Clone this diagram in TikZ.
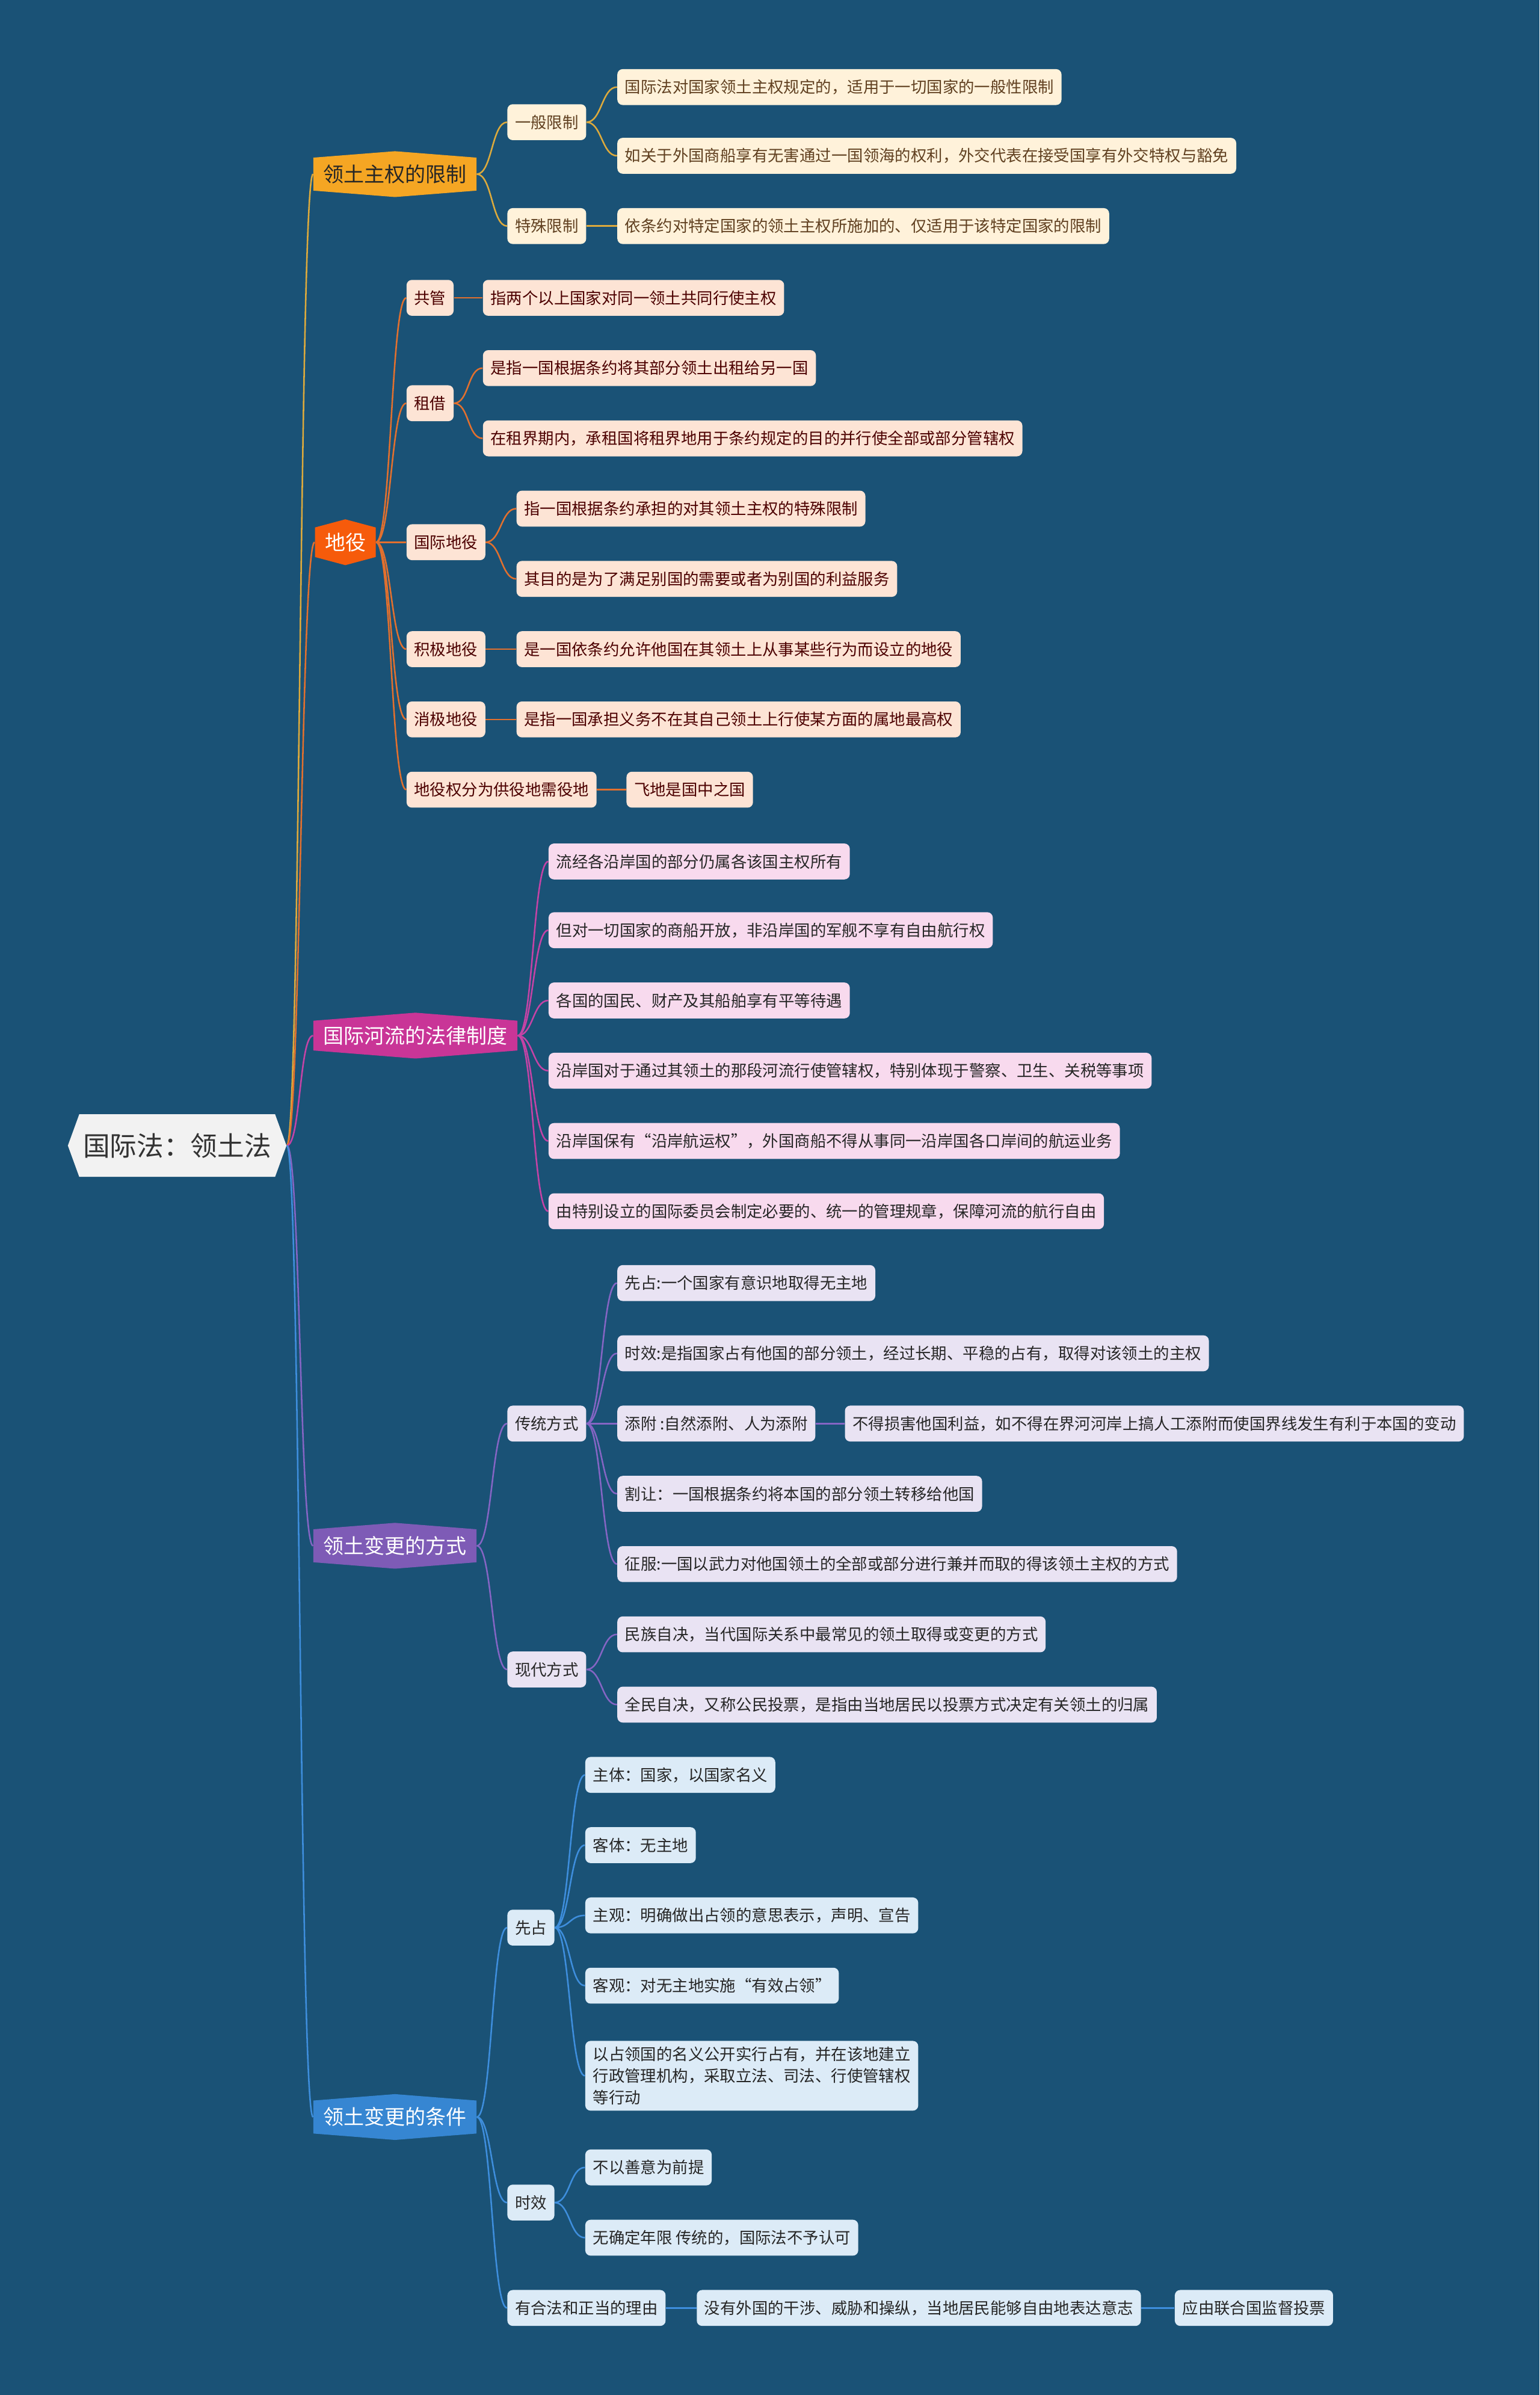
\documentclass[tikz,border=0pt]{standalone}
\usepackage{fontspec}
\setmainfont{Noto Sans CJK SC}
\usetikzlibrary{shapes.symbols, positioning}

\definecolor{bgblue}{HTML}{1A5276}
\definecolor{rootgray}{HTML}{F2F2F2}
\definecolor{orA}{HTML}{F5A623}
\definecolor{orAlite}{HTML}{FFF2DA}
\definecolor{orAline}{HTML}{DDAA3C}
\definecolor{orB}{HTML}{F65B0B}
\definecolor{orBlite}{HTML}{FDE4D5}
\definecolor{orBline}{HTML}{E2702E}
\definecolor{mag}{HTML}{C93597}
\definecolor{maglite}{HTML}{F8DAEE}
\definecolor{magline}{HTML}{C543A6}
\definecolor{pur}{HTML}{7E5BB6}
\definecolor{purlite}{HTML}{E9E3F3}
\definecolor{purline}{HTML}{8565C4}
\definecolor{blu}{HTML}{3686D2}
\definecolor{blulite}{HTML}{DCEBF7}
\definecolor{bluline}{HTML}{3E8EDD}

\tikzset{
  rootnode/.style={signal, signal to=west and east, signal pointer angle=140,
    fill=rootgray, text=black!80, inner xsep=2.5pt, inner ysep=0pt, minimum height=41pt,
    font=\fontsize{17.6}{20}\selectfont},
  topic/.style={signal, signal to=north and south, signal pointer angle=171,
    inner xsep=6.5pt, inner ysep=0pt, minimum height=30pt, anchor=west,
    font=\fontsize{13.4}{16}\selectfont},
  item/.style={rounded corners=3.5pt, minimum height=23.5pt, inner xsep=5pt,
    inner ysep=2pt, anchor=west, align=left, font=\fontsize{10.4}{14}\selectfont},
  itemA/.style={item, fill=orAlite, text=brown!50!black},
  itemB/.style={item, fill=orBlite, text=red!30!black},
  itemC/.style={item, fill=maglite, text=black!85},
  itemD/.style={item, fill=purlite, text=black!85},
  itemE/.style={item, fill=blulite, text=black!85},
  link/.style={line width=1pt},
}

\begin{document}
\begin{tikzpicture}[x=1pt, y=-1pt]
        % Background
        \fill[bgblue] (0,0) rectangle (1008,1568);
        \useasboundingbox (0,0) rectangle (1008,1568);

        % Root
        \node[rootnode] (root) at (116,750) {国际法：领土法};

        % Limits of sovereignty
        \node[topic, fill=orA, text=black!85] (lim) at (205,114) {领土主权的限制};
        \node[itemA] (limgen) at (332,80) {一般限制};
        \node[itemA] (limspec) at (332,148) {特殊限制};
        \node[itemA] (limgen1) at (404,57) {国际法对国家领土主权规定的，适用于一切国家的一般性限制};
        \node[itemA] (limgen2) at (404,102) {如关于外国商船享有无害通过一国领海的权利，外交代表在接受国享有外交特权与豁免};
        \node[itemA] (limspec1) at (404,148) {依条约对特定国家的领土主权所施加的、仅适用于该特定国家的限制};

        % Servitudes
        \node[topic, fill=orB, text=white, signal pointer angle=150] (serv) at (206,355) {地役};
        \node[itemB] (joint) at (266,195) {共管};
        \node[itemB] (joint1) at (316,195) {指两个以上国家对同一领土共同行使主权};
        \node[itemB] (lease) at (266,264) {租借};
        \node[itemB] (lease1) at (316,241) {是指一国根据条约将其部分领土出租给另一国};
        \node[itemB] (lease2) at (316,287) {在租界期内，承租国将租界地用于条约规定的目的并行使全部或部分管辖权};
        \node[itemB] (servint) at (266,355) {国际地役};
        \node[itemB] (servint1) at (338,333) {指一国根据条约承担的对其领土主权的特殊限制};
        \node[itemB] (servint2) at (338,379) {其目的是为了满足别国的需要或者为别国的利益服务};
        \node[itemB] (servpos) at (266,425) {积极地役};
        \node[itemB] (servpos1) at (338,425) {是一国依条约允许他国在其领土上从事某些行为而设立的地役};
        \node[itemB] (servneg) at (266,471) {消极地役};
        \node[itemB] (servneg1) at (338,471) {是指一国承担义务不在其自己领土上行使某方面的属地最高权};
        \node[itemB] (servdiv) at (266,517) {地役权分为供役地需役地};
        \node[itemB] (servdiv1) at (410,517) {飞地是国中之国};

        % International rivers
        \node[topic, fill=mag, text=white] (river) at (205,678) {国际河流的法律制度};
        \node[itemC] (river1) at (359,564) {流经各沿岸国的部分仍属各该国主权所有};
        \node[itemC] (river2) at (359,609) {但对一切国家的商船开放，非沿岸国的军舰不享有自由航行权};
        \node[itemC] (river3) at (359,655) {各国的国民、财产及其船舶享有平等待遇};
        \node[itemC] (river4) at (359,701) {沿岸国对于通过其领土的那段河流行使管辖权，特别体现于警察、卫生、关税等事项};
        \node[itemC] (river5) at (359,747) {沿岸国保有“沿岸航运权”，外国商船不得从事同一沿岸国各口岸间的航运业务};
        \node[itemC] (river6) at (359,793) {由特别设立的国际委员会制定必要的、统一的管理规章，保障河流的航行自由};

        % Ways of change
        \node[topic, fill=pur, text=white] (chg) at (205,1012) {领土变更的方式};
        \node[itemD] (trad) at (332,932) {传统方式};
        \node[itemD] (trad1) at (404,840) {先占:一个国家有意识地取得无主地};
        \node[itemD] (trad2) at (404,886) {时效:是指国家占有他国的部分领土，经过长期、平稳的占有，取得对该领土的主权};
        \node[itemD] (trad3) at (404,932) {添附 :自然添附、人为添附};
        \node[itemD] (trad3a) at (553,932) {不得损害他国利益，如不得在界河河岸上搞人工添附而使国界线发生有利于本国的变动};
        \node[itemD] (trad4) at (404,978) {割让：一国根据条约将本国的部分领土转移给他国};
        \node[itemD] (trad5) at (404,1024) {征服:一国以武力对他国领土的全部或部分进行兼并而取的得该领土主权的方式};
        \node[itemD] (mod) at (332,1093) {现代方式};
        \node[itemD] (mod1) at (404,1070) {民族自决，当代国际关系中最常见的领土取得或变更的方式};
        \node[itemD] (mod2) at (404,1116) {全民自决，又称公民投票，是指由当地居民以投票方式决定有关领土的归属};

        % Conditions of change
        \node[topic, fill=blu, text=white] (cond) at (205,1386) {领土变更的条件};
        \node[itemE] (occ) at (332,1262) {先占};
        \node[itemE] (occ1) at (383,1162) {主体：国家，以国家名义};
        \node[itemE] (occ2) at (383,1208) {客体：无主地};
        \node[itemE] (occ3) at (383,1254) {主观：明确做出占领的意思表示，声明、宣告};
        \node[itemE] (occ4) at (383,1300) {客观：对无主地实施“有效占领”};
        \node[itemE, inner ysep=4pt] (occ5) at (383,1359) {以占领国的名义公开实行占有，并在该地建立\\行政管理机构，采取立法、司法、行使管辖权\\等行动};
        \node[itemE] (pres) at (332,1442) {时效};
        \node[itemE] (pres1) at (383,1419) {不以善意为前提};
        \node[itemE] (pres2) at (383,1465) {无确定年限 传统的，国际法不予认可};
        \node[itemE] (just) at (332,1511) {有合法和正当的理由};
        \node[itemE] (just1) at (456,1511) {没有外国的干涉、威胁和操纵，当地居民能够自由地表达意志};
        \node[itemE] (just2) at (769,1511) {应由联合国监督投票};

        % Connectors
        \draw[link, orAline] (root.east) .. controls +(9,0) and +(-9,0) .. (lim.west);
        \draw[link, orBline] (root.east) .. controls +(9,0) and +(-9,0) .. (serv.west);
        \draw[link, magline] (root.east) .. controls +(9,0) and +(-9,0) .. (river.west);
        \draw[link, purline] (root.east) .. controls +(9,0) and +(-9,0) .. (chg.west);
        \draw[link, bluline] (root.east) .. controls +(9,0) and +(-9,0) .. (cond.west);

        \foreach \a/\b in {lim/limgen, lim/limspec, limgen/limgen1, limgen/limgen2, limspec/limspec1}
          \draw[link, orAline] (\a.east) .. controls +(10,0) and +(-10,0) .. (\b.west);

        \foreach \a/\b in {serv/joint, serv/lease, serv/servint, serv/servpos, serv/servneg, serv/servdiv,
            joint/joint1, lease/lease1, lease/lease2, servint/servint1, servint/servint2,
            servpos/servpos1, servneg/servneg1, servdiv/servdiv1}
          \draw[link, orBline] (\a.east) .. controls +(10,0) and +(-10,0) .. (\b.west);

        \foreach \b in {river1, river2, river3, river4, river5, river6}
          \draw[link, magline] (river.east) .. controls +(10,0) and +(-10,0) .. (\b.west);

        \foreach \a/\b in {chg/trad, chg/mod, trad/trad1, trad/trad2, trad/trad3, trad/trad4, trad/trad5,
            trad3/trad3a, mod/mod1, mod/mod2}
          \draw[link, purline] (\a.east) .. controls +(10,0) and +(-10,0) .. (\b.west);

        \foreach \a/\b in {cond/occ, cond/pres, cond/just, occ/occ1, occ/occ2, occ/occ3, occ/occ4, occ/occ5,
            pres/pres1, pres/pres2, just/just1, just1/just2}
          \draw[link, bluline] (\a.east) .. controls +(10,0) and +(-10,0) .. (\b.west);
      \end{tikzpicture}
\end{document}
